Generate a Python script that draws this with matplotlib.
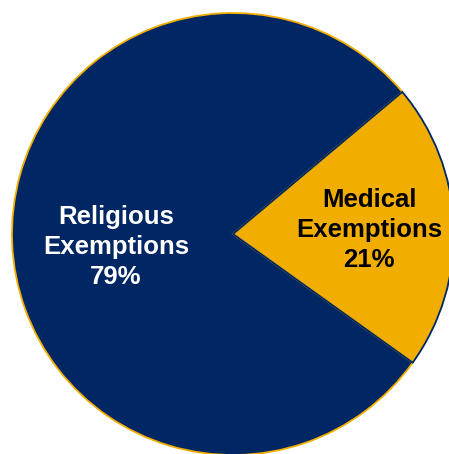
import matplotlib
matplotlib.use("Agg")
import matplotlib.pyplot as plt

labels = ["Religious\nExemptions", "Medical\nExemptions"]
shares = [79, 21]
fills = ["#002664", "#F2AE00"]
rims = ["#F2AE00", "#002664"]
text_colors = ["white", "black"]

fig = plt.figure(figsize=(4.49, 4.54), dpi=100, facecolor="white")
ax = fig.add_axes([0, 0, 1, 1])

# pie drawn in pixel-like units so the circle can run off the right/bottom edge
cx, cy, r = 233, 454 - 234, 221
wedges, _ = ax.pie(shares, colors=fills, startangle=40, counterclock=True,
                   center=(cx, cy), radius=r,
                   wedgeprops=dict(linewidth=1.3))
for w, ec in zip(wedges, rims):
    w.set_edgecolor(ec)

label_pos = [(116, 454 - 247), (369, 454 - 230)]
for lab, val, (x, y), tc in zip(labels, shares, label_pos, text_colors):
    ax.text(x, y, f"{lab}\n{val}%", ha="center", va="center", color=tc,
            fontsize=18.5, fontweight="bold", family="Liberation Sans",
            linespacing=1.3)

ax.set_xlim(0, 449)
ax.set_ylim(0, 454)
ax.set_aspect("equal")
ax.axis("off")

fig.savefig("out.png", dpi=100, facecolor="white")
